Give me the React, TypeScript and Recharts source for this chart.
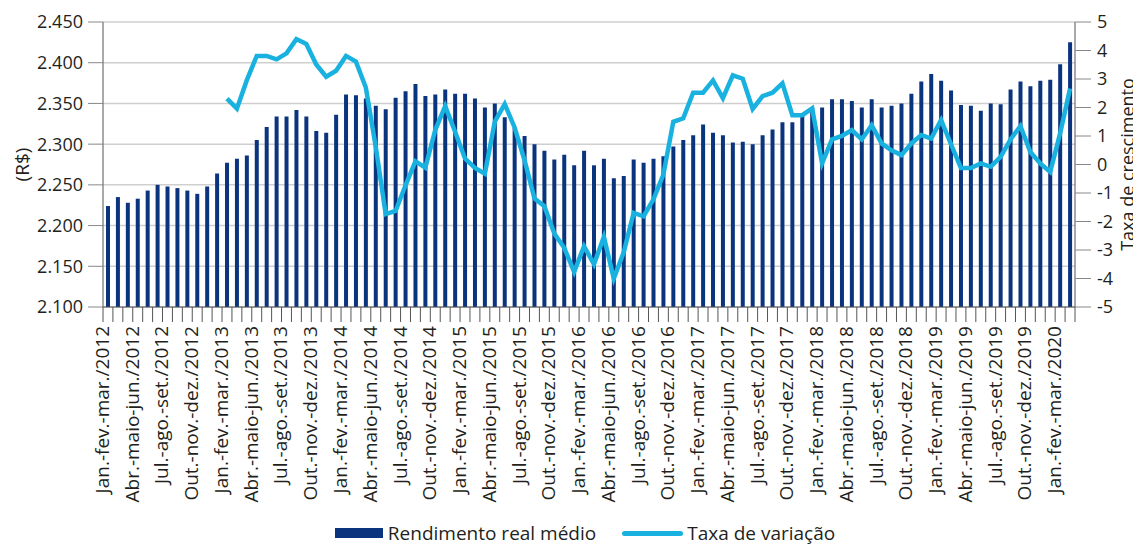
import { ComposedChart, Bar, Line, XAxis, YAxis, CartesianGrid, Legend } from "recharts";

// month abbreviations used to build the rolling-quarter category names
const MONTHS = ["jan.", "fev.", "mar.", "abr.", "maio", "jun.", "jul.", "ago.", "set.", "out.", "nov.", "dez."];
const START_YEAR = 2012;

// Rendimento real médio (R$), rolling quarters jan-fev-mar/2012 .. fev-mar-abr/2020
const RENDIMENTO = [
  2224, 2235, 2228, 2233, 2243, 2250, 2248, 2246, 2243, 2239, 2248, 2264,
  2277, 2282, 2286, 2305, 2321, 2334, 2334, 2342, 2334, 2316, 2314, 2336,
  2361, 2360, 2356, 2347, 2343, 2357, 2365, 2374, 2359, 2361, 2367, 2362,
  2362, 2356, 2345, 2350, 2333, 2320, 2310, 2300, 2292, 2281, 2287, 2274,
  2292, 2274, 2282, 2258, 2261, 2281, 2277, 2282, 2285, 2297, 2305, 2311,
  2324, 2314, 2311, 2302, 2303, 2300, 2311, 2318, 2327, 2327, 2336, 2345,
  2345, 2355, 2355, 2353, 2345, 2355, 2345, 2347, 2350, 2362, 2377, 2386,
  2378, 2366, 2348, 2347, 2341, 2350, 2349, 2367, 2377, 2371, 2378, 2379,
  2398, 2425,
];

// Taxa de variação (%), starts one year after the first quarter
const TAXA = [
  null, null, null, null, null, null, null, null, null, null, null, null,
  2.31, 1.96, 2.96, 3.81, 3.81, 3.69, 3.9, 4.4, 4.23, 3.51, 3.08, 3.29,
  3.81, 3.61, 2.7, 0.62, -1.74, -1.63, -0.73, 0.11, -0.11, 1.21, 2.05, 1.15,
  0.21, -0.12, -0.32, 1.5, 2.12, 1.3, 0.15, -1.19, -1.46, -2.42, -2.92, -3.77,
  -2.87, -3.5, -2.54, -4.0, -3.08, -1.7, -1.82, -1.22, -0.35, 1.5, 1.62, 2.52,
  2.52, 2.95, 2.33, 3.13, 3.01, 1.95, 2.4, 2.52, 2.85, 1.73, 1.73, 1.97,
  0.04, 0.88, 1.0, 1.21, 0.88, 1.38, 0.74, 0.5, 0.33, 0.74, 1.03, 0.91,
  1.56, 0.71, -0.12, -0.12, 0.04, -0.08, 0.27, 0.88, 1.35, 0.44, 0.04, -0.26,
  1.09, 2.67,
];

const LEFT_TICKS = [2100, 2150, 2200, 2250, 2300, 2350, 2400, 2450];
const RIGHT_TICKS = [-5, -4, -3, -2, -1, 0, 1, 2, 3, 4, 5];

const cap = (s: string) => s.charAt(0).toUpperCase() + s.slice(1);

const CATEGORIES = RENDIMENTO.map((_, i) => {
  const m = [i, i + 1, i + 2].map((k) => MONTHS[k % 12]);
  const year = START_YEAR + Math.floor((i + 2) / 12);
  return `${cap(m[0])}-${m[1]}-${m[2]}/${year}`;
});

const data = CATEGORIES.map((periodo, i) => ({
  periodo,
  rendimento: RENDIMENTO[i],
  taxa: TAXA[i],
}));

const WIDTH = 1133;
const HEIGHT = 537;
const MARGIN = { top: 14, right: 0, bottom: 4, left: 8 };
const LEFT_AXIS_W = 87;
const RIGHT_AXIS_W = 66;
const BAND = (WIDTH - MARGIN.left - MARGIN.right - LEFT_AXIS_W - RIGHT_AXIS_W) / data.length;

const FONT = '"Open Sans", sans-serif';
const NAVY = "#0b347e";
const CYAN = "#19b1df";
const TEXT = "#231f20";
const AXIS = "#555";

const fmtReais = (v: number) => `${Math.floor(v / 1000)}.${String(v % 1000).padStart(3, "0")}`;

function XTick(props: any) {
  const { x, y, payload, index } = props;
  const left = x - BAND / 2;
  const ty = y + 19;
  return (
    <g>
      <line x1={left} x2={left} y1={y} y2={y + 15} stroke={AXIS} />
      {index === data.length - 1 && (
        <line x1={x + BAND / 2} x2={x + BAND / 2} y1={y} y2={y + 15} stroke={AXIS} />
      )}
      {index % 3 === 0 && (
        <text
          x={x + 1}
          y={ty}
          transform={`rotate(-90 ${x + 1} ${ty})`}
          textAnchor="end"
          fontSize={19}
          fontFamily={FONT}
          fill={TEXT}
        >
          {payload.value}
        </text>
      )}
    </g>
  );
}

function LeftTitle(props: any) {
  const { viewBox } = props;
  const cx = viewBox.x + 6;
  const cy = viewBox.y + viewBox.height / 2;
  return (
    <text
      x={cx}
      y={cy}
      transform={`rotate(-90 ${cx} ${cy})`}
      textAnchor="middle"
      dominantBaseline="central"
      fontSize={19}
      fontFamily={FONT}
      fill={TEXT}
    >
      (R$)
    </text>
  );
}

function RightTitle(props: any) {
  const { viewBox } = props;
  // baseline of the rotated text sits a few pixels inside the right edge
  const cx = WIDTH - 7;
  const cy = viewBox.y + viewBox.height / 2;
  return (
    <text
      x={cx}
      y={cy}
      transform={`rotate(-90 ${cx} ${cy})`}
      textAnchor="middle"
      fontSize={18}
      fontFamily={FONT}
      fill={TEXT}
    >
      Taxa de crescimento
    </text>
  );
}

function LegendContent() {
  return (
    <div
      style={{
        display: "flex",
        justifyContent: "center",
        alignItems: "center",
        height: 16,
        lineHeight: "16px",
        fontFamily: FONT,
        fontSize: 19,
        color: TEXT,
        paddingLeft: 13,
      }}
    >
      <span style={{ display: "inline-block", width: 48, height: 10, background: NAVY, marginRight: 5 }} />
      <span>Rendimento real médio</span>
      <span
        style={{
          display: "inline-block",
          width: 61,
          height: 5,
          borderRadius: 3,
          background: CYAN,
          marginLeft: 26,
          marginRight: 4,
        }}
      />
      <span>Taxa de variação</span>
    </div>
  );
}

export default function App() {
  return (
    <div style={{ width: WIDTH, height: HEIGHT }}>
      <ComposedChart width={WIDTH} height={HEIGHT} data={data} margin={MARGIN}>
        <CartesianGrid yAxisId="left" vertical={false} stroke="#cfcfcf" strokeWidth={1.5} />
        <XAxis
          dataKey="periodo"
          interval={0}
          height={218}
          tickLine={false}
          tickSize={0}
          tickMargin={0}
          axisLine={{ stroke: AXIS }}
          tick={<XTick />}
        />
        <YAxis
          yAxisId="left"
          width={LEFT_AXIS_W}
          domain={[2100, 2450]}
          ticks={LEFT_TICKS}
          tickFormatter={fmtReais}
          tickSize={15}
          tickMargin={5}
          tickLine={{ stroke: "#888" }}
          axisLine={{ stroke: AXIS }}
          tick={{ fontSize: 18, fontFamily: FONT, fill: TEXT }}
          label={<LeftTitle />}
        />
        <YAxis
          yAxisId="right"
          orientation="right"
          width={RIGHT_AXIS_W}
          domain={[-5, 5]}
          ticks={RIGHT_TICKS}
          tickSize={16}
          tickMargin={6}
          tickLine={{ stroke: "#888" }}
          axisLine={{ stroke: AXIS }}
          tick={{ fontSize: 18, fontFamily: FONT, fill: TEXT }}
          label={<RightTitle />}
        />
        <Legend verticalAlign="bottom" height={16} content={<LegendContent />} />
        <Bar
          yAxisId="left"
          dataKey="rendimento"
          name="Rendimento real médio"
          fill={NAVY}
          barSize={4}
          isAnimationActive={false}
        />
        <Line
          yAxisId="right"
          dataKey="taxa"
          name="Taxa de variação"
          type="linear"
          stroke={CYAN}
          strokeWidth={4.5}
          dot={false}
          activeDot={false}
          isAnimationActive={false}
        />
      </ComposedChart>
    </div>
  );
}
